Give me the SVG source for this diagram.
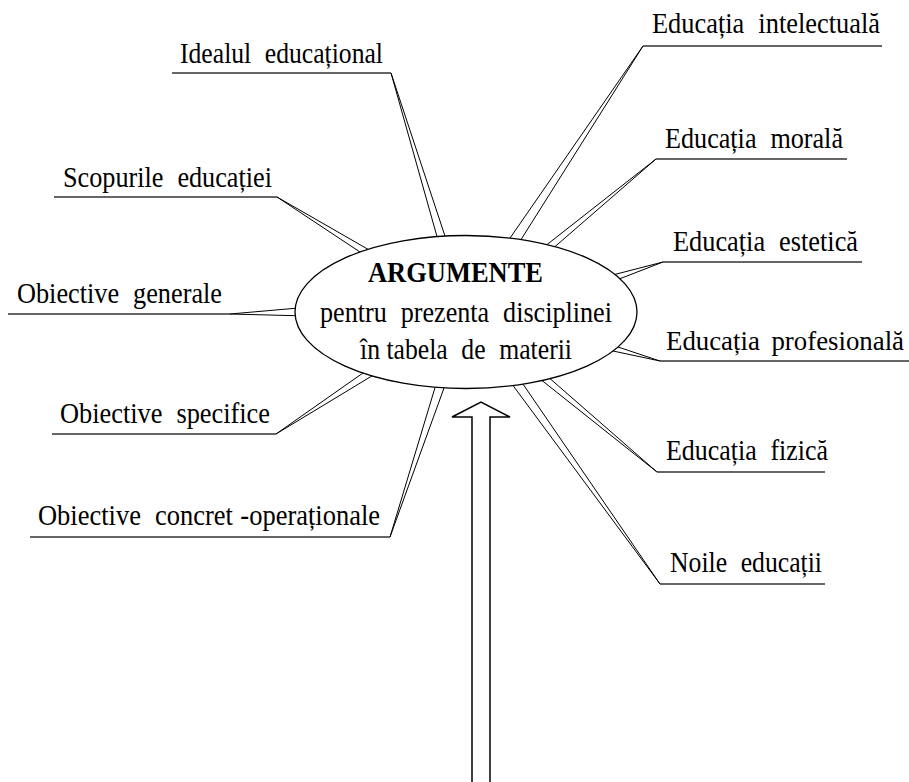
<svg xmlns="http://www.w3.org/2000/svg" width="909" height="782" viewBox="0 0 909 782">
<style>
text{font-family:"Liberation Serif","Times New Roman",serif;font-size:28.5px;fill:#000;word-spacing:8px}
.b{font-weight:bold;word-spacing:0}
.ul{stroke:#333;stroke-width:1.4;fill:none}
.cn{stroke:#000;stroke-width:1;fill:none;stroke-linejoin:miter}
.el{stroke:#000;stroke-width:1.3;fill:#fff}
</style>
<rect width="909" height="782" fill="#fff"/>
<g id="connectors">
<polyline class="cn" points="437,236.6 391,73 445,236.1"/>
<polyline class="cn" points="360,252 277,197 368,249.3"/>
<polyline class="cn" points="295.2,308.3 230,314 295.2,315.7"/>
<polyline class="cn" points="363,373 276,434 372,375.9"/>
<polyline class="cn" points="435,387.6 390,537 444,388"/>
<polyline class="cn" points="510,238.1 643,46 521,239.6"/>
<polyline class="cn" points="547,244.6 656,159 555,246.6"/>
<polyline class="cn" points="615,274.4 663,262 620,278.7"/>
<polyline class="cn" points="613,351 660,361 618,347"/>
<polyline class="cn" points="542,380.5 657,472 550,378.6"/>
<polyline class="cn" points="513,385.5 660,584 523,384.1"/>
</g>
<g id="center">
<ellipse class="el" cx="466" cy="312" rx="171" ry="76.5"/>
<text class="b" x="368" y="282" textLength="175" lengthAdjust="spacingAndGlyphs">ARGUMENTE</text>
<text x="320" y="322" textLength="292" lengthAdjust="spacingAndGlyphs">pentru prezenta disciplinei</text>
<text x="360" y="359" textLength="212" lengthAdjust="spacingAndGlyphs"><tspan style="word-spacing:0">în </tspan>tabela de materii</text>
</g>
<g id="n-idealul">
<text x="180" y="63" textLength="203" lengthAdjust="spacingAndGlyphs">Idealul educațional</text>
<line class="ul" x1="172" y1="73" x2="391" y2="73"/>
</g>
<g id="n-scopurile">
<text x="63" y="187" textLength="209" lengthAdjust="spacingAndGlyphs">Scopurile educației</text>
<line class="ul" x1="54" y1="197" x2="277" y2="197"/>
</g>
<g id="n-generale">
<text x="17" y="303" textLength="205" lengthAdjust="spacingAndGlyphs">Obiective generale</text>
<line class="ul" x1="8" y1="314" x2="230" y2="314"/>
</g>
<g id="n-specifice">
<text x="60" y="423" textLength="210" lengthAdjust="spacingAndGlyphs">Obiective specifice</text>
<line class="ul" x1="52" y1="434" x2="276" y2="434"/>
</g>
<g id="n-concret">
<text x="38" y="525" textLength="342" lengthAdjust="spacingAndGlyphs">Obiective concret<tspan style="word-spacing:1px"> -operaționale</tspan></text>
<line class="ul" x1="30" y1="537" x2="390" y2="537"/>
</g>
<g id="n-intelectuala">
<text x="652" y="33" textLength="228" lengthAdjust="spacingAndGlyphs">Educația intelectuală</text>
<line class="ul" x1="643" y1="46" x2="882" y2="46"/>
</g>
<g id="n-morala">
<text x="665" y="148" textLength="178" lengthAdjust="spacingAndGlyphs">Educația morală</text>
<line class="ul" x1="656" y1="159" x2="847" y2="159"/>
</g>
<g id="n-estetica">
<text x="673" y="251" textLength="185" lengthAdjust="spacingAndGlyphs">Educația estetică</text>
<line class="ul" x1="663" y1="262" x2="862" y2="262"/>
</g>
<g id="n-profesionala">
<text x="666" y="350" textLength="238" lengthAdjust="spacingAndGlyphs" style="font-size:27px;word-spacing:5px">Educația profesională</text>
<line class="ul" x1="660" y1="361" x2="909" y2="361"/>
</g>
<g id="n-fizica">
<text x="666" y="460" textLength="162" lengthAdjust="spacingAndGlyphs">Educația fizică</text>
<line class="ul" x1="657" y1="472" x2="825" y2="472"/>
</g>
<g id="n-noile">
<text x="670" y="572" textLength="152" lengthAdjust="spacingAndGlyphs">Noile educații</text>
<line class="ul" x1="660" y1="584" x2="825" y2="584"/>
</g>
<g id="arrow">
<polyline points="472,790 472,417 452,417 481,402 510,417 490,417 490,790" fill="#fff" stroke="#000" stroke-width="1.5" stroke-linejoin="miter"/>
</g>
</svg>
